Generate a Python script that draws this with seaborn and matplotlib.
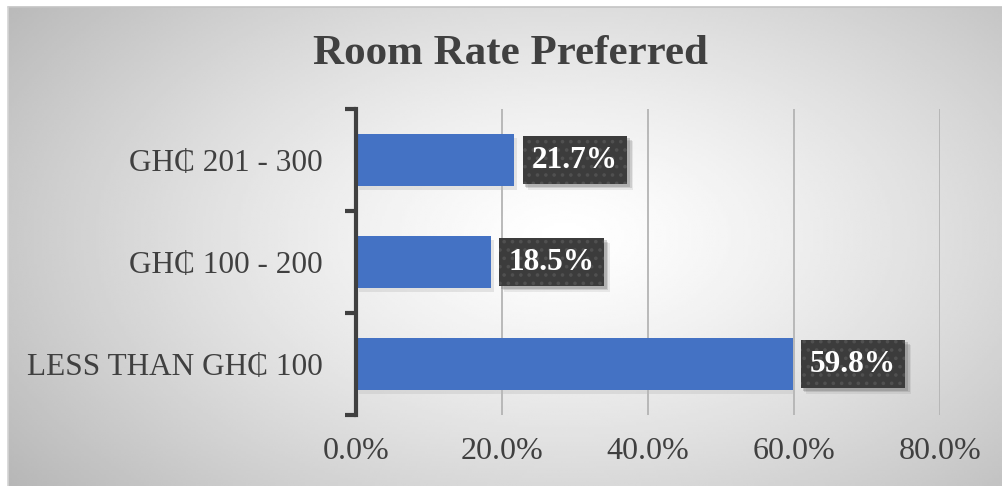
import numpy as np
import pandas as pd
import matplotlib
matplotlib.use("Agg")
import matplotlib.pyplot as plt
from matplotlib.patches import Rectangle
import matplotlib.patheffects as pe
from matplotlib.ticker import FuncFormatter, FixedLocator
import seaborn as sns

# Survey results: preferred room rate
categories = ["GH\u20b5 201 - 300", "GH\u20b5 100 - 200", "LESS THAN GH\u20b5 100"]
shares = [21.7, 18.5, 59.8]
x_ticks = [0, 20, 40, 60, 80]

sns.set_theme(style="white")
plt.rcParams["font.family"] = ["Liberation Serif", "DejaVu Serif"]
plt.rcParams["hatch.linewidth"] = 1.4

W, H = 1003, 486
fig = plt.figure(figsize=(W / 100, H / 100), dpi=100)
fig.patch.set_facecolor("white")

# Radial grey-to-white background of the chart area
bg = fig.add_axes([8 / W, 0, 1 - 8 / W, 1 - 7 / H], zorder=-10)
gx, gy = np.meshgrid(np.linspace(0, 1, 400), np.linspace(0, 1, 200))
cx, cy = 0.56, 0.48
r = np.sqrt(((gx - cx) / 0.62) ** 2 + ((gy - cy) / 0.75) ** 2)
shade = 1.0 - 0.24 * np.clip(r, 0, 1.25) ** 1.3
bg.imshow(shade, cmap="gray", vmin=0, vmax=1, aspect="auto",
          extent=[0, 1, 0, 1], origin="upper", interpolation="bilinear")
bg.set_axis_off()
fig.add_artist(plt.Line2D([8 / W, 1], [1 - 7 / H, 1 - 7 / H],
                          color="#c4c4c4", lw=1.2, transform=fig.transFigure))
fig.add_artist(plt.Line2D([8 / W, 8 / W], [0, 1 - 7 / H],
                          color="#d4d4d4", lw=1.2, transform=fig.transFigure))

left, right = 356 / W, 940 / W
top, bottom = 1 - 109 / H, 1 - 415 / H
ax = fig.add_axes([left, bottom, right - left, top - bottom])
ax.patch.set_alpha(0)

df = pd.DataFrame({"category": categories, "share": shares})
sns.barplot(data=df, x="share", y="category", order=categories,
            color="#4472c4", saturation=1, width=0.51, linewidth=0,
            ax=ax, zorder=3)

for bar in ax.patches:
    bar.set_path_effects([pe.SimplePatchShadow(offset=(2, -3), shadow_rgbFace="#bbbbbb",
                                               alpha=0.35), pe.Normal()])

ax.set_xlim(0, 80)
ax.set_ylim(2.5, -0.5)
ax.xaxis.set_major_locator(FixedLocator(x_ticks))
ax.xaxis.set_major_formatter(FuncFormatter(lambda v, _: f"{v:.1f}%"))
ax.grid(axis="x", color="#b4b4b4", lw=1.3, zorder=0)
ax.grid(axis="y", visible=False)
ax.set_xlabel("")
ax.set_ylabel("")

for s in ["top", "right", "bottom"]:
    ax.spines[s].set_visible(False)
ax.spines["left"].set_color("#404040")
ax.spines["left"].set_linewidth(3)
ax.spines["left"].set_zorder(5)

# Category tick marks sit on the boundaries between bars
ax.set_yticks([0, 1, 2])
ax.set_yticks([-0.5, 0.5, 1.5, 2.5], minor=True)
ax.tick_params(axis="y", which="major", length=0, pad=24, labelsize=22.5, labelcolor="#404040")
ax.tick_params(axis="y", which="minor", length=8, width=3, color="#404040", direction="out", left=True)
ax.tick_params(axis="x", length=0, pad=16, labelsize=23, labelcolor="#404040")

labels = []
for i, v in enumerate(shares):
    t = ax.text(v + 2.4, i, f"{v:.1f}%", ha="left", va="center",
                fontsize=22.5, fontweight="bold", color="white", zorder=6,
                bbox=dict(boxstyle="square,pad=0.3", facecolor="#3c3c3c",
                          edgecolor="#505050", linewidth=0, hatch=".."))
    labels.append(t)

fig.text(510 / W, 1 - 54 / H, "Room Rate Preferred", ha="center", va="center",
         fontsize=31, fontweight="bold", color="#404040")

# Soft drop shadows under the value label boxes (drawn inside the axes, beneath the labels)
fig.canvas.draw()
inv = fig.transFigure.inverted()
for t in labels:
    ext = t.get_bbox_patch().get_window_extent()
    for k, a in ((6, 0.12), (4.5, 0.2), (3, 0.28)):
        (x0, y0), (x1, y1) = inv.transform([(ext.x0 + k - 1, ext.y0 - k),
                                            (ext.x1 + k, ext.y1 - k + 1)])
        ax.add_patch(Rectangle((x0, y0), x1 - x0, y1 - y0, transform=fig.transFigure,
                               facecolor="#666666", alpha=a, linewidth=0,
                               zorder=5, clip_on=False))

fig.savefig("out.png", dpi=100)
